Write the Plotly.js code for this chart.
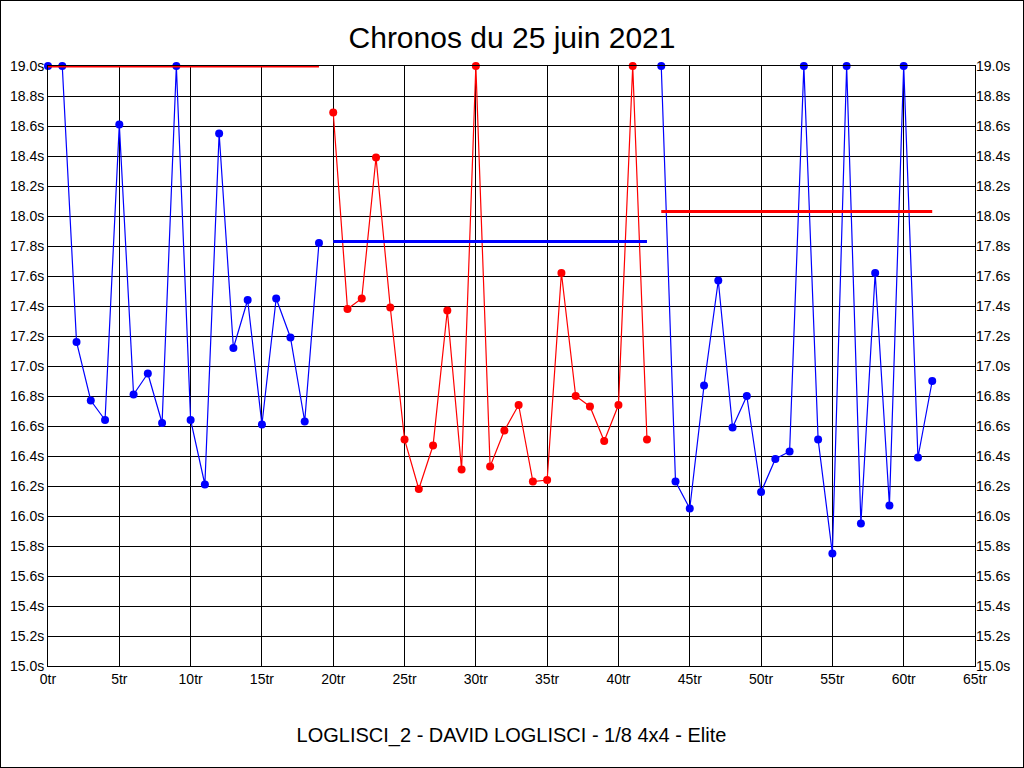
<!DOCTYPE html>
<html>
<head>
<meta charset="utf-8">
<script src="https://cdn.plot.ly/plotly-3.0.1.min.js"></script>
<style>
  html, body { margin: 0; padding: 0; background: #fff; }
  #frame { width: 1022px; height: 766px; border: 1px solid #000; }
  #chart { width: 1022px; height: 766px; }
</style>
</head>
<body>
<div id="frame"><div id="chart"></div></div>
<script>
// ── Data ──────────────────────────────────────────────────────────────────────
const run1Laps  = [0,1,2,3,4,5,6,7,8,9,10,11,12,13,14,15,16,17,18,19];
const run1Times = [19.0,19.0,17.16,16.77,16.64,18.61,16.81,16.95,16.62,19.0,16.64,16.21,18.55,17.12,17.44,16.61,17.45,17.19,16.63,17.82];

const run2Laps  = [20,21,22,23,24,25,26,27,28,29,30,31,32,33,34,35,36,37,38,39,40,41,42];
const run2Times = [18.69,17.38,17.45,18.39,17.39,16.51,16.18,16.47,17.37,16.31,19.0,16.33,16.57,16.74,16.23,16.24,17.62,16.80,16.73,16.50,16.74,19.0,16.51];

const run3Laps  = [43,44,45,46,47,48,49,50,51,52,53,54,55,56,57,58,59,60,61,62];
const run3Times = [19.0,16.23,16.05,16.87,17.57,16.59,16.80,16.16,16.38,16.43,19.0,16.51,15.75,19.0,15.95,17.62,16.07,19.0,16.39,16.90];

// reference line per run: [start lap, end lap], level
const refStart = [0, 20, 43];
const refEnd   = [19, 42, 62];
const refLevel = [19.0, 17.83, 18.03];

const BLUE = '#0000ff', RED = '#ff0000';
const runColors = [BLUE, RED, BLUE];
const refColors = [RED, BLUE, RED];

// ── Traces ────────────────────────────────────────────────────────────────────
const runs = [[run1Laps, run1Times], [run2Laps, run2Times], [run3Laps, run3Times]];
const traces = [];

runs.forEach(([xs, ys], i) => {
  traces.push({
    x: xs, y: ys, mode: 'lines+markers', showlegend: false,
    line: { color: runColors[i], width: 1.2 },
    marker: { color: runColors[i], size: 8 },
    cliponaxis: false,
  });
});

refLevel.forEach((lv, i) => {
  traces.push({
    x: [refStart[i], refEnd[i]], y: [lv, lv], yaxis: 'y2',
    mode: 'lines', showlegend: false, hoverinfo: 'skip',
    line: { color: refColors[i], width: 3 },
    cliponaxis: false,
  });
});

const tickFont = { family: 'Liberation Sans, Arial, sans-serif', size: 14, color: '#000' };
const yCommon = {
  range: [15.0, 19.0], dtick: 0.2, tick0: 15.0,
  tickformat: '.1f', ticksuffix: 's',
  zeroline: false, ticks: '', ticklen: 0,
  tickfont: tickFont,
};

Plotly.newPlot('chart', traces, {
  width: 1022, height: 766,
  paper_bgcolor: '#fff', plot_bgcolor: '#fff',
  margin: { t: 65, r: 48, b: 101, l: 47, pad: 0 },
  title: {
    text: 'Chronos du 25 juin 2021',
    font: { family: 'Liberation Sans, Arial, sans-serif', size: 30, color: '#000' },
    x: 0.5, xanchor: 'center', y: 0.953, yanchor: 'middle',
  },
  xaxis: {
    range: [0, 65], dtick: 5, tick0: 0, ticksuffix: 'tr',
    showgrid: true, gridcolor: '#000', gridwidth: 1,
    showline: true, linecolor: '#000', linewidth: 1, mirror: true,
    zeroline: false, ticks: '', tickfont: tickFont,
    title: {
      text: 'LOGLISCI_2 - DAVID LOGLISCI - 1/8 4x4 - Elite',
      font: { family: 'Liberation Sans, Arial, sans-serif', size: 20, color: '#000' },
      standoff: 42,
    },
  },
  yaxis: Object.assign({}, yCommon, {
    showgrid: true, gridcolor: '#000', gridwidth: 1,
    showline: true, linecolor: '#000', linewidth: 1, mirror: true,
  }),
  yaxis2: Object.assign({}, yCommon, {
    overlaying: 'y', side: 'right', showgrid: false, showline: false,
  }),
}, { displayModeBar: false, staticPlot: true });
</script>
</body>
</html>
